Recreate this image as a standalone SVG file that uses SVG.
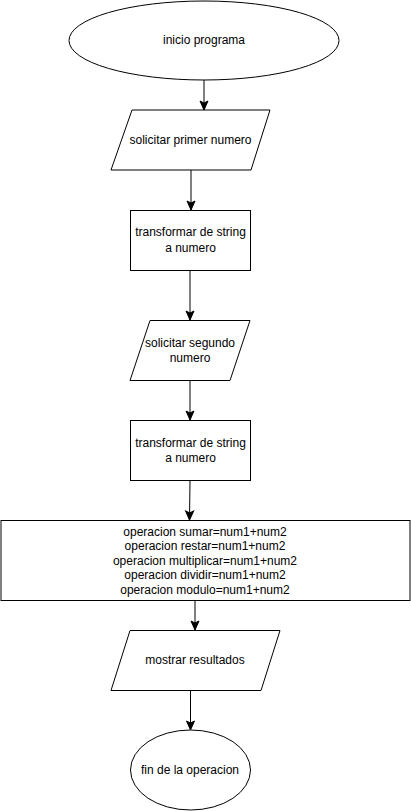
<svg xmlns="http://www.w3.org/2000/svg" width="411" height="811" viewBox="0 0 411 811">
<style>
.s{fill:#fff;stroke:#000;stroke-width:1}
.t{font-family:"Liberation Sans",Arial,sans-serif;font-size:12px;fill:#000;text-anchor:middle;dominant-baseline:central}
.c{fill:none;stroke:#000;stroke-width:1}
</style>
<defs>
<marker id="ah" markerUnits="userSpaceOnUse" markerWidth="12" markerHeight="12" refX="10" refY="5" orient="auto">
<path d="M1,1 L10,5 L1,9 L3,5 Z" fill="#000" stroke="#000" stroke-width="1"/>
</marker>
</defs>
<rect width="411" height="811" fill="#fff"/>
<g id="connectors">
<path class="c" d="M204,80 V110" marker-end="url(#ah)"/>
<path class="c" d="M191,170 V210" marker-end="url(#ah)"/>
<path class="c" d="M190,270 V320" marker-end="url(#ah)"/>
<path class="c" d="M190,380 V420" marker-end="url(#ah)"/>
<path class="c" d="M190,480 L189.5,520" marker-end="url(#ah)"/>
<path class="c" d="M195,600 V630" marker-end="url(#ah)"/>
<path class="c" d="M190.5,690 V730" marker-end="url(#ah)"/>
</g>
<g id="inicio">
<ellipse class="s" cx="204" cy="40.5" rx="135" ry="39.5"/>
<text class="t" x="204" y="40">inicio programa</text>
</g>
<g id="solicitar1">
<polygon class="s" points="132,110 270,110 251,170 111,170"/>
<text class="t" x="190.5" y="140">solicitar primer numero</text>
</g>
<g id="transformar1">
<rect class="s" x="130.5" y="210.5" width="120" height="60"/>
<text class="t" x="190.5" y="232">transformar de string</text>
<text class="t" x="190.5" y="248">a numero</text>
</g>
<g id="solicitar2">
<polygon class="s" points="150,320.5 250,320.5 230,380.5 130,380.5"/>
<text class="t" x="190" y="343">solicitar segundo</text>
<text class="t" x="190" y="358">numero</text>
</g>
<g id="transformar2">
<rect class="s" x="130.5" y="420.5" width="120" height="60"/>
<text class="t" x="190.5" y="443">transformar de string</text>
<text class="t" x="190.5" y="458">a numero</text>
</g>
<g id="operaciones">
<rect class="s" x="1" y="520.5" width="409" height="80"/>
<text class="t" x="205" y="531.5">operacion sumar=num1+num2</text>
<text class="t" x="205" y="546">operacion restar=num1+num2</text>
<text class="t" x="205" y="560.5">operacion multiplicar=num1+num2</text>
<text class="t" x="205" y="575">operacion dividir=num1+num2</text>
<text class="t" x="205" y="589.5">operacion modulo=num1+num2</text>
</g>
<g id="mostrar">
<polygon class="s" points="130,630.5 280,630.5 261,690.5 111,690.5"/>
<text class="t" x="195" y="660">mostrar resultados</text>
</g>
<g id="fin">
<ellipse class="s" cx="190.5" cy="770" rx="60" ry="40"/>
<text class="t" x="190" y="770">fin de la operacion</text>
</g>
</svg>
